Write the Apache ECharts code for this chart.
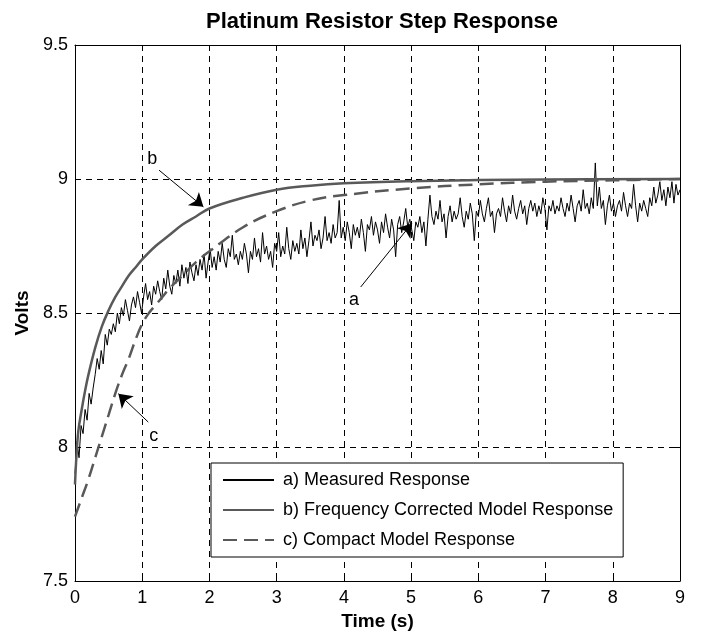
<!DOCTYPE html>
<html>
<head>
<meta charset="utf-8">
<script src="https://cdn.jsdelivr.net/npm/echarts@6/dist/echarts.min.js"></script>
<style>
  html, body { margin: 0; padding: 0; background: #fff; }
  #stepChart { width: 708px; height: 638px; }
</style>
</head>
<body>
<div id="stepChart"></div>
<script>
// measured samples, one every measuredDt seconds
const measuredDt = 0.03;
const measuredValues = [
  7.90, 8.02, 7.96, 8.08, 8.05, 8.14, 8.10, 8.20, 8.16, 8.22,
  8.27, 8.33, 8.29, 8.36, 8.31, 8.42, 8.38, 8.44, 8.42, 8.46,
  8.43, 8.50, 8.46, 8.52, 8.49, 8.55, 8.51, 8.47, 8.53, 8.56,
  8.52, 8.58, 8.54, 8.50, 8.56, 8.61, 8.55, 8.58, 8.53, 8.60,
  8.57, 8.62, 8.58, 8.55, 8.63, 8.59, 8.66, 8.60, 8.57, 8.64,
  8.61, 8.66, 8.60, 8.68, 8.63, 8.67, 8.61, 8.69, 8.65, 8.62,
  8.68, 8.64, 8.70, 8.66, 8.72, 8.63, 8.69, 8.74, 8.67, 8.71,
  8.66, 8.73, 8.69, 8.76, 8.70, 8.67, 8.74, 8.71, 8.79, 8.70,
  8.72, 8.68, 8.73, 8.70, 8.76, 8.72, 8.65, 8.73, 8.70, 8.78,
  8.71, 8.74, 8.69, 8.80, 8.72, 8.75, 8.70, 8.73, 8.67, 8.76,
  8.73, 8.80, 8.71, 8.75, 8.72, 8.82, 8.74, 8.70, 8.77, 8.73,
  8.76, 8.72, 8.81, 8.74, 8.78, 8.71, 8.77, 8.84, 8.75, 8.79,
  8.77, 8.81, 8.74, 8.78, 8.86, 8.77, 8.80, 8.76, 8.83, 8.78,
  8.80, 8.92, 8.78, 8.82, 8.77, 8.84, 8.80, 8.74, 8.83, 8.79,
  8.82, 8.78, 8.85, 8.80, 8.73, 8.83, 8.81, 8.86, 8.79, 8.84,
  8.81, 8.76, 8.84, 8.80, 8.87, 8.82, 8.78, 8.85, 8.81, 8.71,
  8.83, 8.86, 8.80, 8.84, 8.89, 8.82, 8.85, 8.81, 8.77, 8.84,
  8.82, 8.86, 8.80, 8.84, 8.75, 8.85, 8.94, 8.86, 8.83, 8.88,
  8.85, 8.92, 8.84, 8.87, 8.78, 8.86, 8.90, 8.84, 8.88, 8.85,
  8.87, 8.93, 8.86, 8.82, 8.88, 8.85, 8.91, 8.87, 8.77, 8.88,
  8.86, 8.92, 8.87, 8.84, 8.89, 8.93, 8.86, 8.88, 8.80, 8.87,
  8.89, 8.86, 8.93, 8.88, 8.84, 8.90, 8.87, 8.94, 8.88, 8.85,
  8.89, 8.92, 8.87, 8.90, 8.83, 8.89, 8.92, 8.88, 8.91, 8.86,
  8.90, 8.87, 8.93, 8.89, 8.81, 8.90, 8.88, 8.92, 8.87, 8.90,
  8.88, 8.93, 8.89, 8.86, 8.91, 8.88, 8.94, 8.89, 8.84, 8.90,
  8.92, 8.88, 8.96, 8.89, 8.91, 8.87, 8.93, 8.89, 9.06, 8.90,
  8.97, 8.89, 8.92, 8.83, 8.90, 8.94, 8.88, 8.91, 8.86, 8.90,
  8.92, 8.88, 8.95, 8.90, 8.86, 8.91, 8.89, 8.98, 8.90, 8.84,
  8.91, 8.88, 8.92, 8.89, 8.86, 8.93, 8.90, 8.97, 8.91, 8.94,
  8.99, 8.92, 8.96, 8.90, 8.97, 8.93, 8.99, 8.91, 8.98, 8.94,
  8.96
];

// b) frequency corrected model
const freqTime = [0, 0.02, 0.05, 0.1, 0.15, 0.2, 0.3, 0.4, 0.5, 0.6, 0.7, 0.8, 0.9, 1.0,
  1.2, 1.4, 1.6, 1.8, 2.0, 2.5, 3.0, 3.5, 4.0, 5.0, 6.0, 7.0, 9.0];
const freqValues = [7.86, 7.96, 8.06, 8.14, 8.21, 8.27, 8.37, 8.45, 8.51, 8.56, 8.60, 8.64, 8.67, 8.70,
  8.75, 8.79, 8.83, 8.86, 8.89, 8.93, 8.96, 8.975, 8.984, 8.992, 8.996, 8.998, 9.0];

// c) compact model
const compactTime = [0, 0.1, 0.2, 0.3, 0.4, 0.5, 0.6, 0.7, 0.8, 0.9, 1.0, 1.1, 1.2, 1.3, 1.4,
  1.6, 1.8, 2.0, 2.5, 3.0, 3.5, 4.0, 5.0, 6.0, 7.0, 8.0, 9.0];
const compactValues = [7.74, 7.81, 7.88, 7.96, 8.04, 8.12, 8.20, 8.27, 8.33, 8.40, 8.46, 8.50, 8.53, 8.56, 8.59,
  8.64, 8.69, 8.73, 8.82, 8.88, 8.92, 8.94, 8.965, 8.98, 8.99, 8.995, 9.0];

const seriesNames = ['a) Measured Response', 'b) Frequency Corrected Model Response', 'c) Compact Model Response'];

// arrow annotations: label point, arrow start, arrow tip
const noteLabels = ['a', 'b', 'c'];
const notePos = [[4.15, 8.55], [1.15, 9.075], [1.17, 8.04]];
const arrowFrom = [[4.25, 8.597], [1.25, 9.033], [1.09, 8.093]];
const arrowTo = [[5.01, 8.834], [1.91, 8.896], [0.645, 8.199]];

const xTicks = { min: 0, max: 9, interval: 1 };
const yTicks = { min: 7.5, max: 9.5, interval: 0.5 };

const font = "'Liberation Sans', Arial, sans-serif";

const pair = (ts, vs) => ts.map((t, i) => [t, vs[i]]);
const measuredData = measuredValues.map((v, i) => [+(i * measuredDt).toFixed(3), v]);

const gridLine = { show: true, lineStyle: { color: '#000', type: [6, 5], width: 1 } };
const axisBlack = { show: true, onZero: false, lineStyle: { color: '#000', width: 1 } };
const tickIn = { show: true, inside: true, length: 5, lineStyle: { color: '#000' } };

let myChart = echarts.init(document.getElementById('stepChart'));
let option = {
  animation: false,
  backgroundColor: '#fff',
  title: {
    text: 'Platinum Resistor Step Response',
    left: 377,
    textAlign: 'center',
    top: 6,
    textStyle: { fontFamily: font, fontSize: 22, fontWeight: 'bold', color: '#000' },
  },
  grid: { left: 75, right: 28, top: 45, bottom: 57 },
  legend: {
    data: seriesNames,
    orient: 'vertical',
    left: 211,
    top: 463,
    padding: [7, 10, 7, 11],
    itemGap: 10,
    itemWidth: 51,
    itemHeight: 14,
    backgroundColor: '#fff',
    borderColor: '#000',
    borderWidth: 1,
    borderRadius: 0,
    selectedMode: false,
    itemStyle: { opacity: 0 },
    textStyle: { fontFamily: font, fontSize: 18, color: '#000', lineHeight: 20, padding: [0, 0, 0, 4] },
  },
  xAxis: [{
    type: 'value',
    ...xTicks,
    name: 'Time (s)',
    nameLocation: 'middle',
    nameGap: 30,
    nameTextStyle: { fontFamily: font, fontSize: 19, fontWeight: 'bold', color: '#000' },
    axisLine: axisBlack,
    axisTick: tickIn,
    axisLabel: { fontFamily: font, fontSize: 18, color: '#000', margin: 8 },
    splitLine: gridLine,
  }, {
    type: 'value',
    ...xTicks,
    position: 'top',
    axisLine: axisBlack,
    axisTick: tickIn,
    axisLabel: { show: false },
    splitLine: { show: false },
  }],
  yAxis: [{
    type: 'value',
    ...yTicks,
    name: 'Volts',
    nameLocation: 'middle',
    nameGap: 39,
    nameTextStyle: { fontFamily: font, fontSize: 19, fontWeight: 'bold', color: '#000' },
    axisLine: axisBlack,
    axisTick: tickIn,
    axisLabel: {
      fontFamily: font, fontSize: 18, color: '#000', margin: 7,
      formatter: (v) => String(v),
    },
    splitLine: gridLine,
  }, {
    type: 'value',
    ...yTicks,
    position: 'right',
    axisLine: axisBlack,
    axisTick: tickIn,
    axisLabel: { show: false },
    splitLine: { show: false },
  }],
  series: [{
    name: seriesNames[0],
    type: 'line',
    data: measuredData,
    symbol: 'none',
    lineStyle: { color: '#000', width: 1 },
    itemStyle: { color: '#000' },
    z: 3,
  }, {
    name: seriesNames[1],
    type: 'line',
    data: pair(freqTime, freqValues),
    symbol: 'none',
    smooth: 0.4,
    lineStyle: { color: '#595959', width: 2.5 },
    itemStyle: { color: '#595959' },
    z: 4,
  }, {
    name: seriesNames[2],
    type: 'line',
    data: pair(compactTime, compactValues),
    symbol: 'none',
    smooth: 0.4,
    lineStyle: { color: '#595959', width: 2.5, type: [14, 7] },
    itemStyle: { color: '#595959' },
    z: 4,
  }, {
    name: 'notes',
    type: 'scatter',
    data: notePos.map((p, i) => [p[0], p[1], noteLabels[i]]),
    symbolSize: 0,
    silent: true,
    z: 6,
    itemStyle: { opacity: 1, color: '#000' },
    label: {
      show: true,
      position: 'inside',
      formatter: (p) => p.value[2],
      fontFamily: font,
      fontSize: 18,
      color: '#000',
    },
    markLine: {
      silent: true,
      symbol: ['none', 'arrow'],
      symbolSize: 13,
      label: { show: false },
      lineStyle: { color: '#000', width: 1, type: 'solid', opacity: 1 },
      data: arrowFrom.map((p, i) => [{ coord: p }, { coord: arrowTo[i] }]),
    },
  }],
};
myChart.setOption(option);
</script>
</body>
</html>
